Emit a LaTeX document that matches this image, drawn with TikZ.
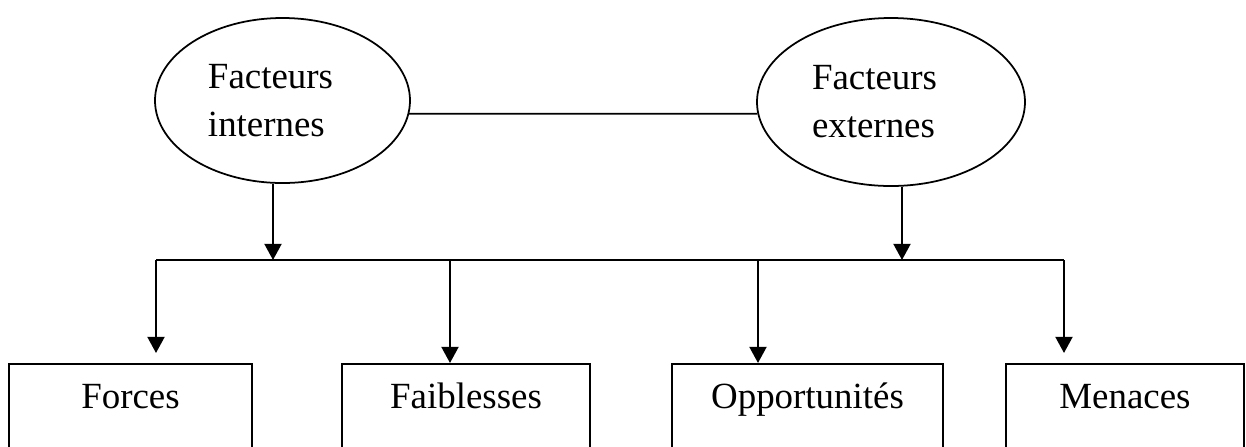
\documentclass[tikz,border=0pt]{standalone}
\usepackage{fontspec}
\setmainfont{Liberation Serif}
\usetikzlibrary{shapes,arrows.meta,positioning,calc}

\begin{document}
\begin{tikzpicture}[
    factor/.style={ellipse, draw, line width=0.5pt, inner sep=0pt, align=left},
    swot/.style={rectangle, draw, line width=0.5pt, anchor=north, text height=0.245cm, text depth=0.6cm, inner ysep=0.205cm},
    arrow/.style={-{Triangle[length=4.6pt,width=4.8pt]}, line width=0.7pt},
    font=\fontsize{10.5pt}{13.66pt}\selectfont
]
    \useasboundingbox (0,0) rectangle (12.46,4.46);
    \clip (0,0) rectangle (12.46,4.46);

    % Facteurs
    \node[factor, minimum width=2.55cm, minimum height=1.65cm, text width=1.49cm] (fi) at (2.825,3.455) {Facteurs\\internes};
    \node[factor, minimum width=2.68cm, minimum height=1.68cm, text width=1.58cm] (fe) at (8.91,3.44) {Facteurs\\externes};
    \draw[line width=0.5pt] (fi.-6.6) -- (fe.185.6);

    % Bus
    \coordinate (ji) at (2.73,1.86);
    \coordinate (je) at (9.02,1.86);
    \coordinate (b1) at (1.56,1.86);
    \coordinate (b2) at (4.50,1.86);
    \coordinate (b3) at (7.58,1.86);
    \coordinate (b4) at (10.64,1.86);
    \draw[arrow] (fi.south -| ji) -- (ji);
    \draw[arrow] (fe.south -| je) -- (je);
    \draw[line width=0.5pt] (b1) -- (b4);

    % SWOT boxes
    \node[swot, minimum width=2.43cm] (force) at (1.305,0.83) {Forces};
    \node[swot, minimum width=2.48cm] (faib) at (4.66,0.83) {Faiblesses};
    \node[swot, minimum width=2.71cm] (oppo) at (8.075,0.83) {Opportunités};
    \node[swot, minimum width=2.38cm] (mena) at (11.25,0.83) {Menaces};

    \coordinate (t1) at (1.56,0.93);
    \coordinate (t4) at (10.64,0.93);
    \draw[arrow] (b1) -- (t1);
    \draw[arrow] (b2) -- (b2 |- faib.north);
    \draw[arrow] (b3) -- (b3 |- oppo.north);
    \draw[arrow] (b4) -- (t4);
\end{tikzpicture}
\end{document}
